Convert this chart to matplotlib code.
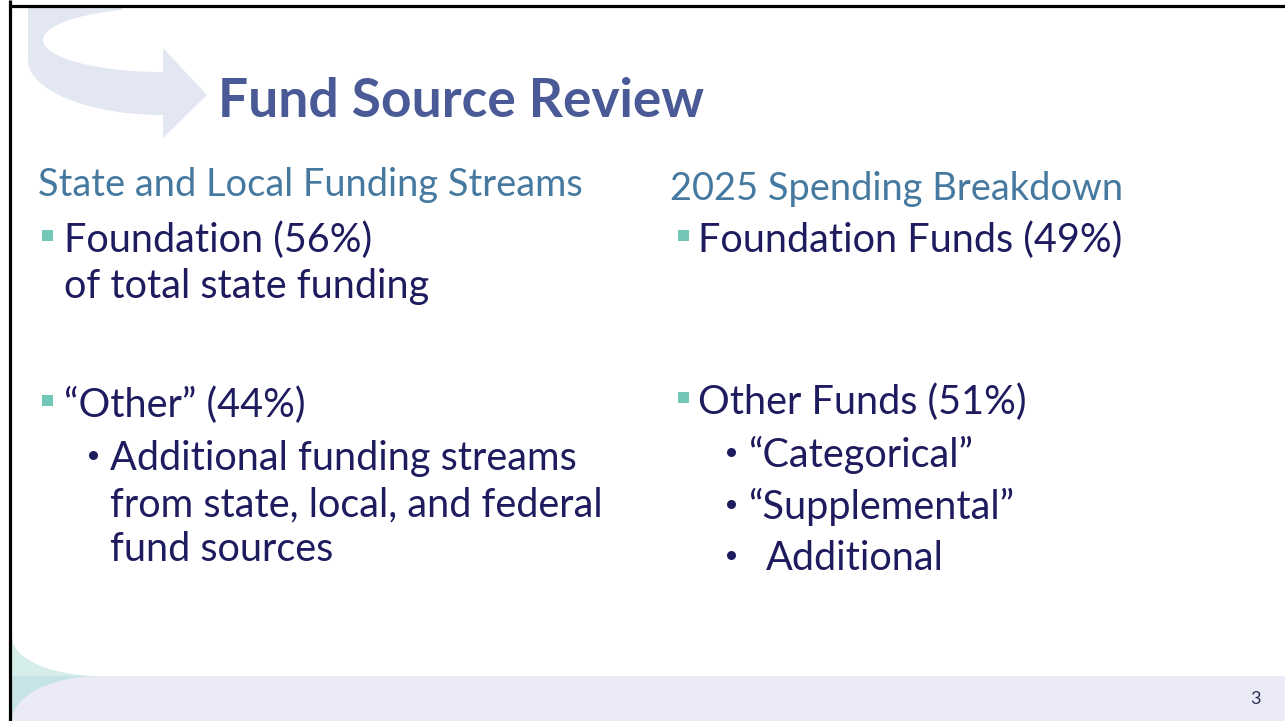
import numpy as np
import matplotlib
matplotlib.use('agg')
import matplotlib.pyplot as plt
from matplotlib.patches import Rectangle, Polygon

W, H = 1285, 721

# slide text
title = "Fund Source Review"
left_header = "State and Local Funding Streams"
right_header = "2025 Spending Breakdown"

# kind: 'sq' = square bullet, 'dot' = sub bullet, '' = wrapped line
left_kinds = ["sq", "", "sq", "dot", "", ""]
left_texts = ["Foundation (56%)", "of total state funding",
              "\u201cOther\u201d (44%)", "Additional funding streams",
              "from state, local, and federal", "fund sources"]
right_kinds = ["sq", "sq", "dot", "dot", "dot"]
right_texts = ["Foundation Funds (49%)", "Other Funds (51%)",
               "\u201cCategorical\u201d", "\u201cSupplemental\u201d", "Additional"]
page_no = "3"

# layout (pixels, y down)
left_x = [64, 64, 64, 110, 110, 110]
left_y = [252, 298, 417, 470, 516, 561]
right_x = [698, 698, 748, 748, 766]
right_y = [252, 414, 467, 519, 570]

TITLE_C = "#4a5a96"
HEAD_C = "#46799f"
BODY_C = "#1e1b5e"
SQ_C = "#72c7b7"
FONT = "Lato"

fig = plt.figure(figsize=(W / 100, H / 100), dpi=100)
ax = fig.add_axes([0, 0, 1, 1])
ax.set_xlim(0, W)
ax.set_ylim(H, 0)
ax.axis('off')
renderer = fig.canvas.get_renderer()


def fit_size(s, width, **kw):
    t = ax.text(0, 0, s, fontsize=30, **kw)
    size = 30
    for _ in range(3):
        w = t.get_window_extent(renderer).width
        size = size * width / w
        t.set_fontsize(size)
    t.remove()
    return size


# curved arrow in the top-left corner
t_in = np.radians(np.linspace(250, 90, 60))
inner = np.c_[163 + 120 * np.cos(t_in), 40 + 32 * np.sin(t_in)]
t_out = np.radians(np.linspace(90, 180, 60))
outer = np.c_[163 + 135 * np.cos(t_out), 60 + 55 * np.sin(t_out)]
pts = np.vstack([[[28, 5], [122, 5]], inner,
                 [[163, 48], [207, 95], [163, 138]], outer])
ax.add_patch(Polygon(pts, closed=True, fc="#e2e7f1", ec="none", zorder=1))

# bottom band and corner shapes
ax.add_patch(Rectangle((12, 676), W, H - 676, fc="#ebebf7", ec="none", zorder=1))
t1 = np.radians(np.linspace(180, 90, 60))
up = np.c_[100 + 88 * np.cos(t1), 637 + 39 * np.sin(t1)]
ax.add_patch(Polygon(np.vstack([up, [[12, 676]]]), closed=True,
                     fc="#d6eee9", ec="none", zorder=2))
t2 = np.radians(np.linspace(270, 180, 60))
lo = np.c_[100 + 88 * np.cos(t2), 721 + 45 * np.sin(t2)]
ax.add_patch(Polygon(np.vstack([[[12, 676]], lo]), closed=True,
                     fc="#c6e3e5", ec="none", zorder=2))

# title
ts = fit_size(title, 488, family=FONT, weight='bold')
ax.text(218, 117, title, fontsize=ts, family=FONT, weight='bold',
        color=TITLE_C, va='baseline', zorder=5)

# headers
hs = fit_size(left_header, 545, family=FONT)
ax.text(38, 196, left_header, fontsize=hs, family=FONT,
        color=HEAD_C, va='baseline', zorder=5)
ax.text(670, 200, right_header, fontsize=hs, family=FONT,
        color=HEAD_C, va='baseline', zorder=5)

# body
bs = fit_size(left_texts[4], 495, family=FONT)


def draw_lines(kinds, texts, xs, ys, sq_x, dot_x):
    for k, s, x, y in zip(kinds, texts, xs, ys):
        ax.text(x, y, s, fontsize=bs, family=FONT, color=BODY_C,
                va='baseline', zorder=5)
        if k == "sq":
            ax.add_patch(Rectangle((sq_x, y - 22), 10.5, 10.5, fc=SQ_C, ec="none", zorder=5))
        elif k == "dot":
            ax.plot(dot_x, y - 15, 'o', ms=6.5, color=BODY_C, mec="none", zorder=5)


draw_lines(left_kinds, left_texts, left_x, left_y, 42, 93)
draw_lines(right_kinds, right_texts, right_x, right_y, 678, 731)

ax.text(1250, 704, page_no, fontsize=13, family=FONT, color="#2e2e55",
        va='baseline', zorder=5)

# slide border
ax.plot([10, 10], [0, H], color="black", lw=2.3, solid_capstyle='butt', zorder=6)
ax.plot([9, W], [6, 6], color="black", lw=2.3, solid_capstyle='butt', zorder=6)

fig.savefig("out.png", dpi=100)
